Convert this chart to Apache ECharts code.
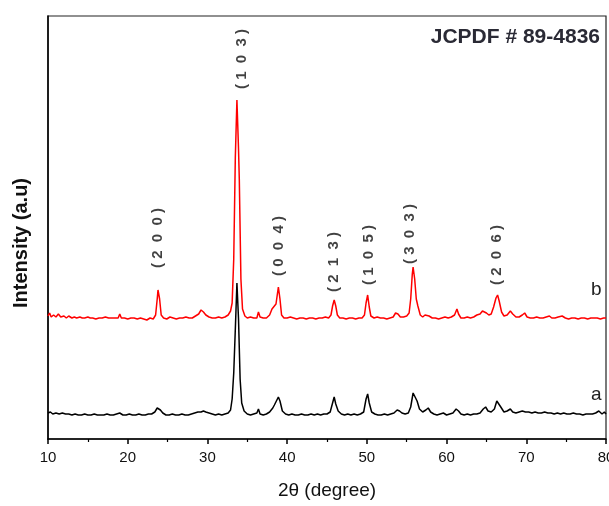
<!DOCTYPE html>
<html>
<head>
<meta charset="utf-8">
<script src="https://cdn.jsdelivr.net/npm/echarts@6/dist/echarts.min.js"></script>
<style>
html,body{margin:0;padding:0;background:#fff;}
#chart{width:609px;height:506px;}
</style>
</head>
<body>
<div id="chart"></div>
<script>
// Pattern a (black): [2theta, intensity]
const patternA = [
[10,26],[10.3,27],[10.6,25],[11,26],[11.4,25],[11.8,26],[12.2,25],[12.6,25],[13,24],[13.4,25],[13.8,24],[14.2,24],[14.6,25],[15,24],[15.4,24],[15.8,25],[16.2,24],[16.6,24],[17,24],[17.4,25],[17.8,24],[18.2,24],[18.6,25],[19,26],[19.4,24],[19.8,24],[20.2,25],[20.6,24],[21,24],[21.4,25],[21.8,24],[22.2,24],[22.6,25],[23,25],[23.4,27],[23.7,31],[23.9,32],[24.1,29],[24.4,26],[24.8,24],[25.2,24],[25.6,25],[26,24],[26.4,24],[26.8,25],[27.2,24],[27.6,24],[28,25],[28.4,26],[28.8,27],[29.2,27],[29.5,28],[29.8,27],[30.2,26],[30.6,25],[31,24],[31.4,25],[31.8,24],[32.2,25],[32.6,26],[32.9,29],[33.1,40],[33.3,66],[33.5,110],[33.7,156],[33.9,120],[34.1,60],[34.3,36],[34.6,28],[35,25],[35.4,24],[35.8,25],[36.2,26],[36.4,30],[36.6,25],[37,24],[37.4,25],[37.8,27],[38.2,31],[38.4,34],[38.6,32],[38.9,42],[39.1,38],[39.4,28],[39.8,25],[40.2,24],[40.6,25],[41,24],[41.4,24],[41.8,25],[42.2,24],[42.6,24],[43,25],[43.4,24],[43.8,25],[44.2,24],[44.6,25],[45,25],[45.4,27],[45.7,36],[45.9,42],[46.1,35],[46.4,28],[46.8,25],[47.2,24],[47.6,25],[48,24],[48.4,25],[48.8,24],[49.2,25],[49.6,27],[49.9,40],[50.1,45],[50.3,36],[50.6,27],[51,25],[51.4,24],[51.8,24],[52.2,25],[52.6,24],[53,25],[53.4,26],[53.8,29],[54.1,28],[54.4,26],[54.8,25],[55.2,26],[55.5,32],[55.8,46],[56,48],[56.3,38],[56.6,30],[57,27],[57.4,29],[57.7,31],[58,27],[58.4,25],[58.8,24],[59.2,25],[59.6,26],[60,24],[60.4,25],[60.8,26],[61.2,30],[61.5,28],[61.8,25],[62.2,24],[62.6,25],[63,24],[63.4,25],[63.8,25],[64.2,26],[64.6,30],[64.9,32],[65.2,28],[65.6,27],[66,30],[66.3,38],[66.5,40],[66.8,32],[67.2,27],[67.6,28],[68,30],[68.3,27],[68.7,26],[69.1,27],[69.5,28],[69.9,27],[70.3,27],[70.7,26],[71.1,27],[71.5,26],[71.9,26],[72.3,27],[72.7,26],[73.1,26],[73.5,25],[73.9,26],[74.3,25],[74.7,26],[75.1,25],[75.5,25],[75.9,26],[76.3,25],[76.7,25],[77.1,24],[77.5,25],[77.9,25],[78.3,25],[78.7,26],[79.1,28],[79.5,25],[79.8,27],[80,25]
];
// Pattern b (red), stacked above a: [2theta, intensity]
const patternB = [
[10,123],[10.2,126],[10.4,122],[10.7,124],[11,122],[11.3,125],[11.6,122],[12,123],[12.3,121],[12.6,123],[13,121],[13.3,122],[13.6,121],[14,122],[14.3,121],[14.6,121],[15,122],[15.3,121],[15.6,121],[16,120],[16.4,121],[16.8,121],[17.2,122],[17.6,121],[18,121],[18.4,121],[18.8,121],[19,125],[19.2,121],[19.6,121],[20,120],[20.4,121],[20.8,121],[21.2,120],[21.6,121],[22,120],[22.4,119],[22.8,121],[23.2,120],[23.5,124],[23.7,140],[23.8,149],[24,140],[24.2,124],[24.5,121],[24.9,120],[25.3,122],[25.7,121],[26.1,120],[26.5,121],[26.9,121],[27.3,122],[27.7,121],[28.1,121],[28.5,123],[28.9,125],[29.2,129],[29.5,127],[29.8,124],[30.2,122],[30.6,121],[31,121],[31.4,122],[31.8,121],[32.2,122],[32.6,124],[32.9,128],[33.1,136],[33.3,180],[33.5,282],[33.7,339],[33.9,290],[34.0,259],[34.2,160],[34.4,130],[34.7,123],[35,121],[35.4,122],[35.8,121],[36.2,121],[36.4,127],[36.6,122],[37,121],[37.4,121],[37.8,124],[38.1,130],[38.3,132],[38.6,135],[38.9,152],[39.1,140],[39.3,124],[39.6,121],[40,121],[40.4,122],[40.8,121],[41.2,120],[41.6,121],[42,121],[42.4,120],[42.8,121],[43.2,121],[43.6,120],[44,121],[44.4,121],[44.8,122],[45.2,121],[45.5,124],[45.7,133],[45.9,139],[46.1,133],[46.3,124],[46.6,121],[47,121],[47.4,120],[47.8,121],[48.2,121],[48.6,120],[49,121],[49.4,121],[49.7,124],[49.9,136],[50.1,144],[50.3,132],[50.5,123],[50.9,121],[51.3,122],[51.7,121],[52.1,121],[52.5,120],[52.9,121],[53.3,122],[53.6,126],[53.9,125],[54.2,122],[54.6,122],[55,123],[55.3,126],[55.5,140],[55.7,165],[55.8,172],[56,160],[56.2,140],[56.4,133],[56.7,124],[57,122],[57.3,124],[57.5,126],[57.8,123],[58.2,121],[58.6,121],[59,120],[59.4,121],[59.8,122],[60.2,121],[60.6,122],[61,124],[61.3,130],[61.5,125],[61.8,121],[62.2,121],[62.6,122],[63,121],[63.4,122],[63.8,124],[64.2,125],[64.5,128],[64.7,130],[65,126],[65.3,124],[65.6,125],[65.9,132],[66.2,141],[66.4,144],[66.6,138],[66.9,127],[67.2,123],[67.6,124],[68,128],[68.3,125],[68.7,122],[69.1,122],[69.5,124],[69.8,126],[70.1,122],[70.5,121],[70.9,121],[71.3,122],[71.7,121],[72.1,121],[72.5,122],[72.9,123],[73.2,121],[73.6,121],[74,122],[74.5,123],[74.9,121],[75.3,120],[75.7,121],[76.1,121],[76.5,120],[76.9,121],[77.3,121],[77.7,120],[78.1,121],[78.5,121],[78.9,121],[79.3,120],[79.7,121],[80,121]
];
// Miller-index annotations
const peakNames = ['( 2  0  0 )','( 1  0  3 )','( 0  0  4 )','( 2  1  3 )','( 1  0  5 )','( 3  0  3 )','( 2  0  6 )'];
const peakLabelX = [23.8, 34.35, 38.98, 45.88, 50.28, 55.42, 66.34];
const peakLabelY = [201, 380, 193, 177, 184, 205, 184];
const xTicks = [10, 20, 30, 40, 50, 60, 70, 80];

const FONT = '"Liberation Sans", Arial, sans-serif';
const chart = echarts.init(document.getElementById('chart'), null, {renderer: 'canvas'});
chart.setOption({
  animation: false,
  backgroundColor: '#ffffff',
  grid: {left: 48, right: 3, top: 16, bottom: 67, show: true, borderColor: '#222', borderWidth: 1.2,
         containLabel: false, outerBoundsMode: 'none'},
  xAxis: {
    type: 'value', min: xTicks[0], max: xTicks[xTicks.length - 1], interval: 10,
    name: '2θ (degree)', nameLocation: 'middle', nameGap: 42,
    nameTextStyle: {fontFamily: FONT, fontSize: 19, color: '#111'},
    axisLine: {show: true, lineStyle: {color: '#000', width: 1.5}},
    axisTick: {show: true, inside: false, length: 5, lineStyle: {color: '#000', width: 1.5}},
    minorTick: {show: true, splitNumber: 2, length: 3, lineStyle: {color: '#000', width: 1.2}},
    axisLabel: {fontFamily: FONT, fontSize: 15, color: '#111', margin: 11},
    splitLine: {show: false}
  },
  yAxis: {
    type: 'value', min: 0, max: 423,
    axisLine: {show: true, lineStyle: {color: '#000', width: 1.5}},
    axisTick: {show: false}, axisLabel: {show: false}, splitLine: {show: false}
  },
  series: [
    {type: 'line', data: patternA, showSymbol: false, symbol: 'none', lineStyle: {color: '#000', width: 1.5}, z: 3},
    {type: 'line', data: patternB, showSymbol: false, symbol: 'none', lineStyle: {color: '#ff0000', width: 1.5}, z: 4},
    {type: 'scatter', symbolSize: 1, itemStyle: {color: 'rgba(0,0,0,0)'}, silent: true, z: 5,
     data: peakLabelX.map((x, i) => ({value: [x, peakLabelY[i]], name: peakNames[i]})),
     label: {show: true, position: 'inside', rotate: 90, formatter: p => p.name,
             fontFamily: FONT, fontSize: 15, fontWeight: 'bold', color: '#111'}}
  ],
  graphic: [
    {type: 'text', x: 21, y: 243, rotation: Math.PI / 2,
     style: {text: 'Intensity (a.u)', font: 'bold 20px "Liberation Sans", Arial, sans-serif', fill: '#111', align: 'center', verticalAlign: 'middle'}},
    {type: 'text', right: 9, top: 27, style: {text: 'JCPDF # 89-4836', font: 'bold 21px "Liberation Sans", Arial, sans-serif', fill: '#2a2a35'}},
    {type: 'text', left: 591, top: 280, style: {text: 'b', font: '19px "Liberation Sans", Arial, sans-serif', fill: '#222'}},
    {type: 'text', left: 591, top: 385, style: {text: 'a', font: '19px "Liberation Sans", Arial, sans-serif', fill: '#222'}}
  ]
});
</script>
</body>
</html>
